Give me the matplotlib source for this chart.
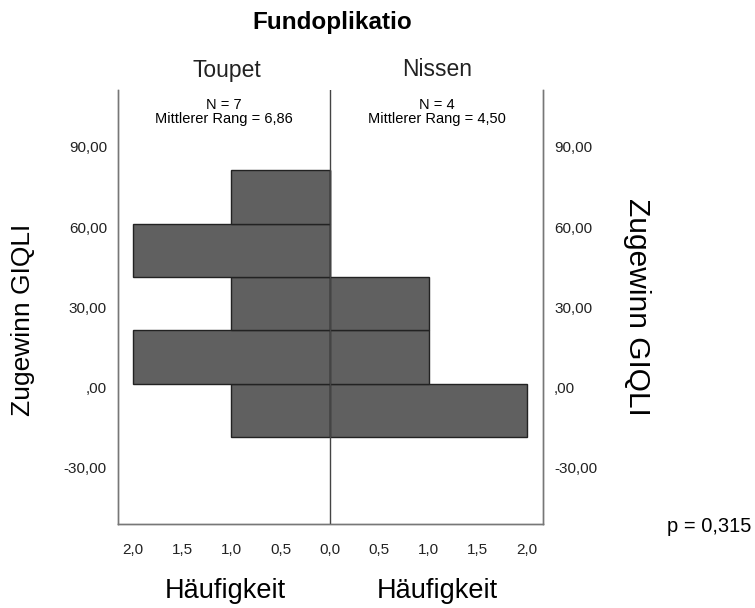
#!/usr/bin/env python3
"""
Fundoplikatio: Zugewinn GIQLI, Toupet vs Nissen (back-to-back histogram)
"""

import matplotlib
matplotlib.use('Agg')
import matplotlib.pyplot as plt
from matplotlib.transforms import ScaledTranslation

plt.rcParams['font.family'] = ['Liberation Sans', 'DejaVu Sans']

# data
bin_lower = [-20, 0, 20, 40, 60]
bin_width = 20
toupet_counts = [1, 2, 1, 2, 1]
nissen_counts = [2, 1, 1, 0, 0]
groups = ['Toupet', 'Nissen']
group_stats = ['N = 7\nMittlerer Rang = 6,86', 'N = 4\nMittlerer Rang = 4,50']
y_ticks = [-30, 0, 30, 60, 90]
y_ticklabels = ['-30,00', ',00', '30,00', '60,00', '90,00']
x_ticks = [-2.0, -1.5, -1.0, -0.5, 0.0, 0.5, 1.0, 1.5, 2.0]
x_ticklabels = ['2,0', '1,5', '1,0', '0,5', '0,0', '0,5', '1,0', '1,5', '2,0']
p_text = 'p = 0,315'

W, H = 755, 608
fig = plt.figure(figsize=(W / 100, H / 100), dpi=100, facecolor='white')


def fx(px):
    return px / W


def fy(py):
    return 1 - py / H


ax = fig.add_axes([fx(118), fy(524), fx(543) - fx(118), fy(90) - fy(524)])

centers = [b + bin_width / 2 for b in bin_lower]
bar_style = dict(height=bin_width, color='#606060', edgecolor='#222222', linewidth=1, zorder=2)
ax.barh(centers, [-c for c in toupet_counts], left=0, **bar_style)
ax.barh(centers, nissen_counts, left=0, **bar_style)

ax.axvline(0, color='#444444', linewidth=1, zorder=3)

ax.set_xlim(-2.15, 2.16)
ax.set_ylim(-52.5, 110)

ax.set_xticks(x_ticks)
ax.set_xticklabels(x_ticklabels, fontsize=11, color='#222222')
ax.set_yticks(y_ticks)
ax.set_yticklabels(y_ticklabels, fontsize=11, color='#222222')
ax.tick_params(axis='x', length=0, pad=14)
ax.tick_params(axis='y', length=0, pad=8)

# rechte Achse
ax2 = ax.twinx()
ax2.set_ylim(ax.get_ylim())
ax2.set_yticks(y_ticks)
ax2.set_yticklabels(y_ticklabels, fontsize=11, color='#222222')
ax2.tick_params(axis='y', length=0, pad=8)

# Y-Beschriftungen leicht nach unten versetzt (wie im Original)
shift = ScaledTranslation(0, -2.5 / 72, fig.dpi_scale_trans)
for lbl in ax.get_yticklabels() + ax2.get_yticklabels():
    lbl.set_transform(lbl.get_transform() + shift)

for a in (ax, ax2):
    a.spines['top'].set_visible(False)
    for s in ('left', 'right', 'bottom'):
        a.spines[s].set_color('#777777')
        a.spines[s].set_linewidth(1)

# Texte
fig.text(fx(332), fy(23), 'Fundoplikatio', ha='center', va='center', fontsize=17.5, fontweight='bold')
fig.text(fx(227), fy(70), groups[0], ha='center', va='center', fontsize=16.5, color='#222222')
fig.text(fx(437), fy(70), groups[1], ha='center', va='center', fontsize=16.5, color='#222222')
fig.text(fx(224), fy(112), group_stats[0], ha='center', va='center', fontsize=10.5, linespacing=0.95)
fig.text(fx(437), fy(112), group_stats[1], ha='center', va='center', fontsize=10.5, linespacing=0.95)

fig.text(fx(23), fy(320), 'Zugewinn GIQLI', rotation=90, ha='center', va='center', fontsize=19)
fig.text(fx(637), fy(307), 'Zugewinn GIQLI', rotation=270, ha='center', va='center', fontsize=21.5)

fig.text(fx(225), fy(591), 'Häufigkeit', ha='center', va='center', fontsize=19.5)
fig.text(fx(437), fy(591), 'Häufigkeit', ha='center', va='center', fontsize=19.5)

fig.text(fx(709), fy(527), p_text, ha='center', va='center', fontsize=14.5)

plt.savefig('out.png', dpi=100, facecolor='white')
plt.close()
print("Saved: out.png")
